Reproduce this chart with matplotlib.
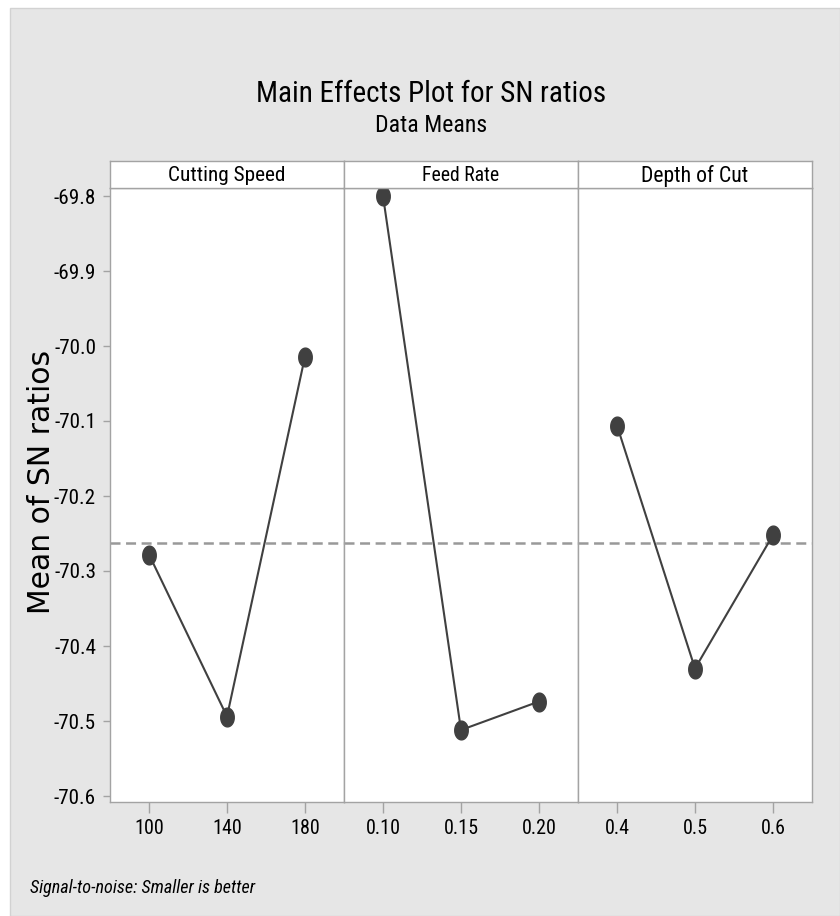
import matplotlib
matplotlib.use("Agg")
import matplotlib.pyplot as plt
import numpy as np
from matplotlib import font_manager
from matplotlib.path import Path
from matplotlib.patches import Rectangle

# ---- data -------------------------------------------------------------
factors = ["Cutting Speed", "Feed Rate", "Depth of Cut"]
cutting_speed_levels = ["100", "140", "180"]
feed_rate_levels = ["0.10", "0.15", "0.20"]
depth_of_cut_levels = ["0.4", "0.5", "0.6"]

cutting_speed_sn = [-70.278, -70.494, -70.014]
feed_rate_sn = [-69.800, -70.512, -70.474]
depth_of_cut_sn = [-70.106, -70.430, -70.252]

y_ticks = [-69.8, -69.9, -70.0, -70.1, -70.2, -70.3, -70.4, -70.5, -70.6]

title = "Main Effects Plot for SN ratios"
subtitle = "Data Means"
y_label = "Mean of SN ratios"
footnote = "Signal-to-noise: Smaller is better"

# ---- fonts ------------------------------------------------------------
avail = {f.name for f in font_manager.fontManager.ttflist}
narrow = [n for n in ("Liberation Sans Narrow", "Roboto Condensed",
                      "Open Sans Condensed", "Noto Sans Condensed")
          if n in avail]
FONT = narrow[0] if narrow else "Open Sans"
plt.rcParams["font.family"] = [FONT, "DejaVu Sans"]
plt.rcParams["lines.scale_dashes"] = False

W, H = 840, 916
fig = plt.figure(figsize=(W / 100, H / 100), dpi=100)
fig.patch.set_facecolor("white")
renderer = fig.canvas.get_renderer()


def box(x0, y0, x1, y1):
    """Pixel box (y measured from the top) -> figure fraction rect."""
    return [x0 / W, 1 - y1 / H, (x1 - x0) / W, (y1 - y0) / H]


def fit(txt, target_px):
    """Resize a text artist so that its rendered width is target_px."""
    w = txt.get_window_extent(renderer).width
    txt.set_fontsize(txt.get_fontsize() * target_px / w)
    return txt


def size_for(sample, target_px, **kw):
    probe = fig.text(0, 0, sample, fontsize=20, **kw)
    w = probe.get_window_extent(renderer).width
    probe.remove()
    return 20 * target_px / w


# grey backdrop of the graph window
fig.patches.append(Rectangle((10 / W, 0), 1 - 10 / W, 1 - 8 / H,
                             transform=fig.transFigure, facecolor="#e6e6e6",
                             edgecolor="#d2d2d2", lw=1.0, zorder=-10))

# ---- panels -----------------------------------------------------------
panels = [
    (factors[0], cutting_speed_levels, cutting_speed_sn),
    (factors[1], feed_rate_levels, feed_rate_sn),
    (factors[2], depth_of_cut_levels, depth_of_cut_sn),
]
grand_mean = np.mean(cutting_speed_sn + feed_rate_sn + depth_of_cut_sn)

theta = np.linspace(0, 2 * np.pi, 60)
ellipse = Path(np.column_stack([0.72 * np.cos(theta), np.sin(theta)]))

LEFT, RIGHT, TOP, BOTTOM, HEAD_TOP = 110, 812, 188, 802, 161
pw = (RIGHT - LEFT) / len(panels)
px_per_unit = 750.0
ylim = (y_ticks[-1] - (BOTTOM - 796) / px_per_unit,
        y_ticks[0] + (196 - TOP) / px_per_unit)

spine_col = "#a3a3a3"
tick_fs_y = size_for("-69.8", 42)
tick_fs_x = size_for("0.10", 35)

for i, (name, levels, vals) in enumerate(panels):
    x0 = LEFT + i * pw
    ax = fig.add_axes(box(x0, TOP, x0 + pw, BOTTOM))
    ax.set_facecolor("white")
    pos = np.arange(len(levels))
    ax.axhline(grand_mean, color="#999999", lw=1.8, dashes=(7.2, 4.0),
               zorder=1)
    ax.plot(pos, vals, color="#404040", lw=1.5, marker=ellipse, ms=13.5,
            mfc="#404040", mec="#404040", zorder=3)
    ax.set_xlim(-0.5, len(levels) - 0.5)
    ax.set_ylim(*ylim)
    ax.set_xticks(pos, levels)
    ax.tick_params(axis="x", direction="out", length=8, width=1,
                   color=spine_col, labelsize=tick_fs_x, pad=4)
    if i == 0:
        ax.set_yticks(y_ticks, [f"{v:.1f}" for v in y_ticks])
        ax.tick_params(axis="y", direction="out", length=5, width=1,
                       color=spine_col, labelsize=tick_fs_y, pad=5)
    else:
        ax.tick_params(axis="y", left=False, labelleft=False)
    for sp in ax.spines.values():
        sp.set_color(spine_col)
        sp.set_linewidth(1.0)

    hdr = fig.add_axes(box(x0, HEAD_TOP, x0 + pw, TOP))
    hdr.set_facecolor("white")
    hdr.set_xticks([])
    hdr.set_yticks([])
    for sp in hdr.spines.values():
        sp.set_color(spine_col)
        sp.set_linewidth(1.0)
    t = hdr.text(0.5, 0.45, name, ha="center", va="center",
                 transform=hdr.transAxes, fontsize=14, color="black")
    fit(t, {0: 118, 1: 78, 2: 108}[i])

# ---- titles and labels ----------------------------------------------
t = fig.text(431 / W, 1 - 94 / H, title, ha="center", va="center",
             fontsize=24, color="black")
fit(t, 350)
t = fig.text(431 / W, 1 - 125 / H, subtitle, ha="center", va="center",
             fontsize=16, color="black")
fit(t, 112)
yl = fig.text(42 / W, 1 - 482 / H, y_label, ha="center", va="center",
              rotation=90, fontsize=18, color="black",
              family=["DejaVu Sans"])
bb = yl.get_window_extent(renderer)
yl.set_fontsize(yl.get_fontsize() * 265 / bb.height)
fn = fig.text(30 / W, 1 - 888 / H, footnote, ha="left", va="center",
              style="italic", fontsize=12, color="black")
fit(fn, 225)

fig.savefig("out.png", dpi=100, facecolor=fig.get_facecolor())
